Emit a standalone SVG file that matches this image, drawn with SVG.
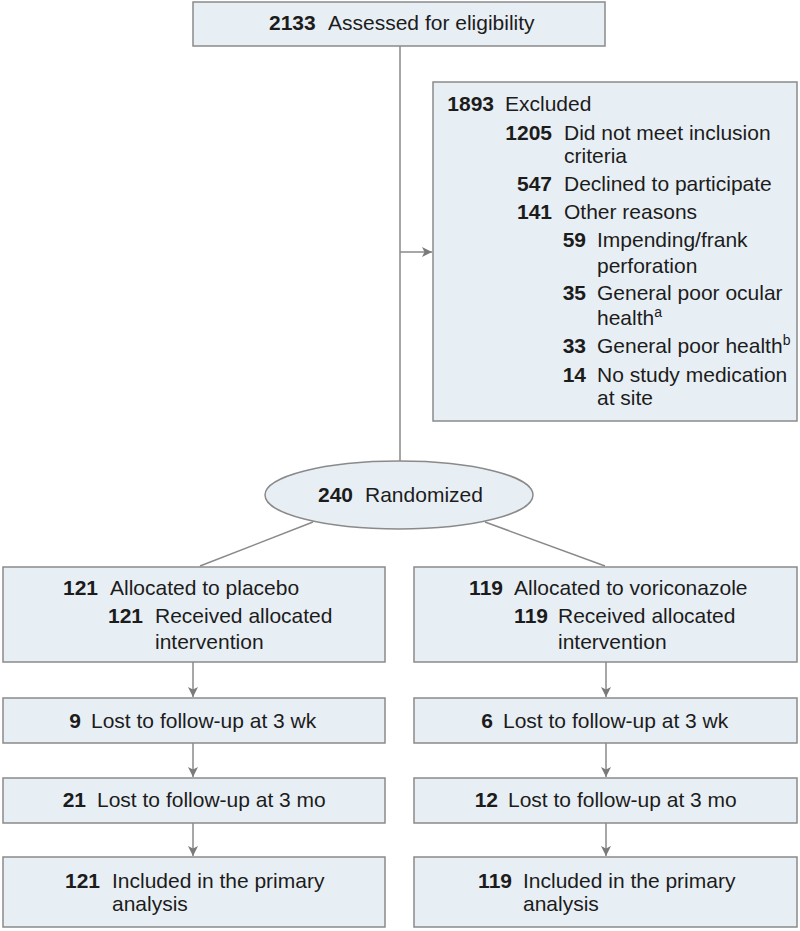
<svg xmlns="http://www.w3.org/2000/svg" width="800" height="931" viewBox="0 0 800 931">
<style>
  .box { fill: #e8eff4; stroke: #8a8a8a; stroke-width: 1.5; }
  .con { stroke: #8a8a8a; stroke-width: 1.5; fill: none; }
  .arr { stroke: #8a8a8a; stroke-width: 1.5; fill: none; marker-end: url(#ah); }
  text { font-family: "Liberation Sans", Arial, sans-serif; font-size: 21px; fill: #1c1c1c; }
  .b { font-weight: bold; }
  .sup { font-size: 14px; }
</style>
<defs>
  <marker id="ah" viewBox="0 0 10 10" refX="10" refY="5" markerWidth="10" markerHeight="10" markerUnits="userSpaceOnUse" orient="auto">
    <path d="M0,0 L10,5 L0,10 L2.5,5 Z" fill="#7a7a7a"/>
  </marker>
</defs>
<rect width="800" height="931" fill="#ffffff"/>

<g id="connectors">
  <line class="con" x1="400" y1="46" x2="400" y2="462"/>
  <line class="arr" x1="400" y1="252" x2="432" y2="252"/>
  <line class="con" x1="313" y1="522" x2="200" y2="566"/>
  <line class="con" x1="485" y1="522" x2="605" y2="566"/>
  <line class="arr" x1="193" y1="662" x2="193" y2="697"/>
  <line class="arr" x1="193" y1="743" x2="193" y2="777"/>
  <line class="arr" x1="193" y1="823" x2="193" y2="856"/>
  <line class="arr" x1="606" y1="662" x2="606" y2="697"/>
  <line class="arr" x1="606" y1="743" x2="606" y2="777"/>
  <line class="arr" x1="606" y1="823" x2="606" y2="856"/>
</g>

<g id="assessed">
  <rect class="box" x="193" y="2" width="412" height="44"/>
  <text x="269" y="30"><tspan class="b">2133</tspan><tspan x="328">Assessed for eligibility</tspan></text>
</g>

<g id="excluded">
  <rect class="box" x="433" y="82" width="364" height="339"/>
  <text x="494" y="111" class="b" text-anchor="end">1893</text>
  <text x="505" y="111">Excluded</text>
  <text x="552" y="140" class="b" text-anchor="end">1205</text>
  <text x="564" y="140">Did not meet inclusion</text>
  <text x="564" y="163">criteria</text>
  <text x="552" y="191" class="b" text-anchor="end">547</text>
  <text x="564" y="191">Declined to participate</text>
  <text x="552" y="219" class="b" text-anchor="end">141</text>
  <text x="564" y="219">Other reasons</text>
  <text x="586" y="247" class="b" text-anchor="end">59</text>
  <text x="597" y="247">Impending/frank</text>
  <text x="597" y="273">perforation</text>
  <text x="586" y="300" class="b" text-anchor="end">35</text>
  <text x="597" y="300">General poor ocular</text>
  <text x="597" y="325">health<tspan class="sup" dy="-8">a</tspan></text>
  <text x="586" y="353" class="b" text-anchor="end">33</text>
  <text x="597" y="353">General poor health<tspan class="sup" dy="-8">b</tspan></text>
  <text x="586" y="382" class="b" text-anchor="end">14</text>
  <text x="597" y="382">No study medication</text>
  <text x="597" y="405">at site</text>
</g>

<g id="randomized">
  <ellipse class="box" cx="399" cy="495" rx="134" ry="34"/>
  <text x="318" y="502"><tspan class="b">240</tspan><tspan x="365">Randomized</tspan></text>
</g>

<g id="alloc-placebo">
  <rect class="box" x="3" y="567" width="382" height="95"/>
  <text x="98" y="595" class="b" text-anchor="end">121</text>
  <text x="110" y="595">Allocated to placebo</text>
  <text x="143" y="623" class="b" text-anchor="end">121</text>
  <text x="155" y="623">Received allocated</text>
  <text x="155" y="649">intervention</text>
</g>

<g id="alloc-vori">
  <rect class="box" x="414" y="567" width="383" height="95"/>
  <text x="503" y="595" class="b" text-anchor="end">119</text>
  <text x="514" y="595">Allocated to voriconazole</text>
  <text x="548" y="623" class="b" text-anchor="end">119</text>
  <text x="558" y="623">Received allocated</text>
  <text x="558" y="649">intervention</text>
</g>

<g id="lost3wk-placebo">
  <rect class="box" x="3" y="698" width="382" height="45"/>
  <text x="81" y="728" class="b" text-anchor="end">9</text>
  <text x="91" y="728">Lost to follow-up at 3 wk</text>
</g>

<g id="lost3wk-vori">
  <rect class="box" x="414" y="698" width="383" height="45"/>
  <text x="493" y="728" class="b" text-anchor="end">6</text>
  <text x="503" y="728">Lost to follow-up at 3 wk</text>
</g>

<g id="lost3mo-placebo">
  <rect class="box" x="3" y="778" width="382" height="45"/>
  <text x="86" y="807" class="b" text-anchor="end">21</text>
  <text x="97" y="807">Lost to follow-up at 3 mo</text>
</g>

<g id="lost3mo-vori">
  <rect class="box" x="414" y="778" width="383" height="45"/>
  <text x="498" y="807" class="b" text-anchor="end">12</text>
  <text x="508" y="807">Lost to follow-up at 3 mo</text>
</g>

<g id="included-placebo">
  <rect class="box" x="3" y="857" width="382" height="70"/>
  <text x="100" y="888" class="b" text-anchor="end">121</text>
  <text x="112" y="888">Included in the primary</text>
  <text x="112" y="911">analysis</text>
</g>

<g id="included-vori">
  <rect class="box" x="414" y="857" width="383" height="70"/>
  <text x="512" y="888" class="b" text-anchor="end">119</text>
  <text x="523" y="888">Included in the primary</text>
  <text x="523" y="911">analysis</text>
</g>
</svg>
